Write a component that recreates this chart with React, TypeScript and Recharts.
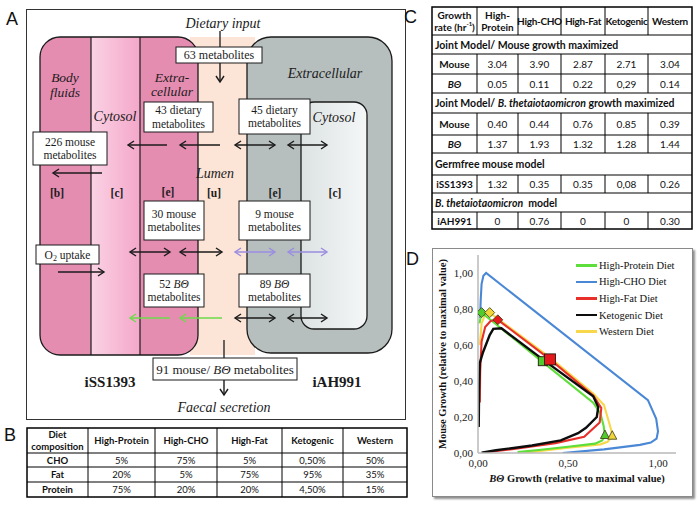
import React from "react";
import { ComposedChart, Line, Scatter, XAxis, YAxis, Legend, Label } from "recharts";

const serif = '"Liberation Serif", "DejaVu Serif", serif';
const sans = 'Lato, "Open Sans", sans-serif';
const panelFont = '"Liberation Sans", Arial, sans-serif';
const INK = "#1b1b1b";

// ---- panel D: growth trade-off curves, [BΘ growth, mouse growth]
const highProteinCurve: [number, number][] = [
  [0.008, 0.72], [0.02, 0.78], [0.1, 0.715], [0.36, 0.505], [0.64, 0.28], [0.68, 0.22],
  [0.698, 0.15], [0.705, 0.1], [0.69, 0.07], [0.65, 0.052], [0.5, 0.035], [0.35, 0.018], [0.22, 0.005],
];
const highChoCurve: [number, number][] = [
  [0.47, 0], [0.7, 0.02], [0.9, 0.045], [0.96, 0.058], [0.992, 0.08], [1.0, 0.12], [0.99, 0.19],
  [0.944, 0.294], [0.045, 1.0], [0.03, 0.985], [0.02, 0.94], [0.015, 0.85], [0.012, 0.75],
];
const highFatCurve: [number, number][] = [
  [0.01, 0.28], [0.012, 0.45], [0.02, 0.62], [0.04, 0.7], [0.07, 0.733], [0.11, 0.74], [0.4, 0.52],
  [0.64, 0.32], [0.685, 0.25], [0.676, 0.17], [0.59, 0.09], [0.43, 0.055], [0.2, 0.022], [0.03, 0.003],
];
const ketogenicCurve: [number, number][] = [
  [0.004, 0.145], [0.006, 0.35], [0.01, 0.5], [0.028, 0.56], [0.065, 0.655], [0.085, 0.69], [0.13, 0.693],
  [0.38, 0.505], [0.64, 0.315], [0.668, 0.255], [0.66, 0.2], [0.6, 0.14], [0.556, 0.11], [0.46, 0.07],
  [0.3, 0.042], [0.1, 0.015], [0.02, 0.002],
];
const westernCurve: [number, number][] = [
  [0.01, 0.6], [0.02, 0.72], [0.04, 0.77], [0.065, 0.78], [0.4, 0.53], [0.64, 0.33], [0.7, 0.267],
  [0.74, 0.128], [0.746, 0.096], [0.72, 0.062], [0.68, 0.048], [0.5, 0.03], [0.25, 0.0],
];

const diamondMarkers = [
  { diet: "High-Protein", x: 0.02, y: 0.78 },
  { diet: "Western", x: 0.065, y: 0.78 },
  { diet: "High-Fat", x: 0.11, y: 0.74 },
];
const squareMarkers = [
  { diet: "High-Protein", x: 0.36, y: 0.51 },
  { diet: "High-Fat", x: 0.4, y: 0.52 },
];
const triangleMarkers = [
  { diet: "High-Protein", x: 0.705, y: 0.1 },
  { diet: "Western", x: 0.746, y: 0.096 },
];

const xTicks = [0, 0.5, 1];
const yTicks = [0, 0.2, 0.4, 0.6, 0.8, 1];

// ---- panel B / C tables
const dietNames = ["High-Protein", "High-CHO", "High-Fat", "Ketogenic", "Western"];
const choRow = ["5%", "75%", "5%", "0,50%", "50%"];
const fatRow = ["20%", "5%", "75%", "95%", "35%"];
const proteinRow = ["75%", "20%", "20%", "4,50%", "15%"];

const mouseMaxMouse = ["3.04", "3.90", "2.87", "2.71", "3.04"];
const mouseMaxBt = ["0.05", "0.11", "0.22", "0,29", "0.14"];
const btMaxMouse = ["0.40", "0.44", "0.76", "0.85", "0.39"];
const btMaxBt = ["1.37", "1.93", "1.32", "1.28", "1.44"];
const germfreeRow = ["1.32", "0.35", "0.35", "0,08", "0.26"];
const btModelRow = ["0", "0.76", "0", "0", "0.30"];

const lineColor: Record<string, string> = {
  "High-Protein": "#5EDE3A",
  "High-CHO": "#4A88D6",
  "High-Fat": "#E8302A",
  Ketogenic: "#0d0d0d",
  Western: "#F8D84A",
};
const markerFill: Record<string, string> = {
  "High-Protein": "#4FCB2E",
  "High-Fat": "#E5181C",
  Western: "#EFD53A",
};

const curves = [
  { name: "High-CHO", pts: highChoCurve },
  { name: "Western", pts: westernCurve },
  { name: "High-Protein", pts: highProteinCurve },
  { name: "High-Fat", pts: highFatCurve },
  { name: "Ketogenic", pts: ketogenicCurve },
];

const fmt = (v: number) => v.toFixed(2).replace(".", ",");

const Diamond = (p: any) => {
  const { cx, cy, payload } = p;
  const r = 5;
  return (
    <path
      d={`M${cx},${cy - r} L${cx + r},${cy} L${cx},${cy + r} L${cx - r},${cy} Z`}
      fill={markerFill[payload.diet]}
      stroke="#3a3a10"
      strokeWidth={0.8}
    />
  );
};
const Square = (p: any) => {
  const { cx, cy, payload } = p;
  const s = payload.diet === "High-Fat" ? 11 : 9;
  return (
    <rect x={cx - s / 2} y={cy - s / 2} width={s} height={s} fill={markerFill[payload.diet]} stroke="#2a1a10" strokeWidth={0.9} />
  );
};
const Triangle = (p: any) => {
  const { cx, cy, payload } = p;
  return (
    <path
      d={`M${cx},${cy - 5} L${cx + 4.5},${cy + 3.5} L${cx - 4.5},${cy + 3.5} Z`}
      fill={markerFill[payload.diet]}
      stroke="#3a3a10"
      strokeWidth={0.8}
    />
  );
};

const legendOrder = ["High-Protein", "High-CHO", "High-Fat", "Ketogenic", "Western"];

const renderLegend = () => (
  <div style={{ fontFamily: serif, fontSize: 10.5, color: "#111" }}>
    {legendOrder.map((n) => (
      <div key={n} style={{ display: "flex", alignItems: "center", height: 16.6 }}>
        <span style={{ display: "inline-block", width: 21, height: 2.5, background: lineColor[n], marginRight: 2 }} />
        <span>{n} Diet</span>
      </div>
    ))}
  </div>
);

const YLabel = (props: any) => {
  const vb = props.viewBox || { x: 0, y: 6, width: 45, height: 198 };
  const x = vb.x + 9;
  const y = vb.y + vb.height / 2;
  return (
    <text x={x} y={y} transform={`rotate(-90, ${x}, ${y})`} textAnchor="middle" dominantBaseline="central"
      fontFamily={serif} fontSize={10.5} fontWeight="bold" fill="#111">
      Mouse Growth (relative to maximal value)
    </text>
  );
};

const XLabel = (props: any) => {
  const vb = props.viewBox || { x: 45, y: 204, width: 198, height: 43 };
  return (
    <text x={vb.x + vb.width / 2} y={vb.y + 25} textAnchor="middle" dominantBaseline="central"
      fontFamily={serif} fontSize={10.5} fontWeight="bold" fill="#111">
      <tspan fontStyle="italic">BΘ</tspan> Growth (relative to maximal value)
    </text>
  );
};

function GrowthChart() {
  const tick = { fontFamily: serif, fontSize: 11, fill: "#222" };
  return (
    <ComposedChart width={259} height={247} margin={{ top: 6, right: 16, left: 0, bottom: 0 }}>
      <XAxis type="number" dataKey="x" domain={[0, 1.1]} ticks={xTicks} tickFormatter={fmt} allowDataOverflow
        height={43} axisLine={{ stroke: "#B8B8B8", strokeWidth: 1.5 }} tickLine={false} tickSize={4} tickMargin={2} tick={tick}>
        <Label content={XLabel} />
      </XAxis>
      <YAxis type="number" dataKey="y" domain={[0, 1.1]} ticks={yTicks} tickFormatter={fmt} allowDataOverflow
        width={45} axisLine={{ stroke: "#B8B8B8", strokeWidth: 1.5 }} tickLine={false} tickSize={3} tickMargin={2} tick={tick}>
        <Label content={YLabel} />
      </YAxis>
      {curves.map((c) => (
        <Line key={c.name} name={c.name} data={c.pts.map(([x, y]) => ({ x, y }))} dataKey="y" type="linear"
          stroke={lineColor[c.name]} strokeWidth={c.name === "Ketogenic" ? 2.4 : 2.1} dot={false}
          isAnimationActive={false} legendType="line" />
      ))}
      <Scatter data={diamondMarkers} dataKey="y" shape={Diamond} isAnimationActive={false} legendType="none" />
      <Scatter data={squareMarkers} dataKey="y" shape={Square} isAnimationActive={false} legendType="none" />
      <Scatter data={triangleMarkers} dataKey="y" shape={Triangle} isAnimationActive={false} legendType="none" />
      <Legend content={renderLegend} layout="vertical" align="center" verticalAlign="middle"
        wrapperStyle={{ position: "absolute", left: 143, top: 8, width: 115, height: 84 }} />
    </ComposedChart>
  );
}

// ---- panel A diagram helpers
function HArrow({ x1, x2, y, color = INK, both = false }: { x1: number; x2: number; y: number; color?: string; both?: boolean }) {
  const dir = x2 > x1 ? 1 : -1;
  const h = 6;
  return (
    <g stroke={color} strokeWidth={1.4} fill="none">
      <line x1={x1} y1={y} x2={x2} y2={y} />
      <polyline points={`${x2 - dir * h},${y - 4} ${x2},${y} ${x2 - dir * h},${y + 4}`} />
      {both && <polyline points={`${x1 + dir * h},${y - 4} ${x1},${y} ${x1 + dir * h},${y + 4}`} />}
    </g>
  );
}

function Box({ x, y, w, h, lines, size = 11.5 }: { x: number; y: number; w: number; h: number; lines: React.ReactNode[]; size?: number }) {
  const lh = size * 1.17;
  const start = y + h / 2 - ((lines.length - 1) * lh) / 2;
  return (
    <g>
      <rect x={x} y={y} width={w} height={h} fill="#fff" stroke={INK} strokeWidth={1} />
      {lines.map((ln, i) => (
        <text key={i} x={x + w / 2} y={start + i * lh} textAnchor="middle" dominantBaseline="central"
          fontFamily={serif} fontSize={size} fill={INK}>
          {ln}
        </text>
      ))}
    </g>
  );
}

const It = ({ x, y, children, size = 13.5 }: any) => (
  <text x={x} y={y} textAnchor="middle" dominantBaseline="central" fontFamily={serif} fontStyle="italic" fontSize={size} fill={INK}>
    {children}
  </text>
);
const Bd = ({ x, y, children, size = 11.5 }: any) => (
  <text x={x} y={y} textAnchor="middle" dominantBaseline="central" fontFamily={serif} fontWeight="bold" fontSize={size} fill={INK}>
    {children}
  </text>
);

const PINK = "#E58CB1";
const PEACH = "#FCE4D6";
const GRAY = "#B6BFBE";
const PURPLE = "#9A8DE2";
const GREEN = "#6CDB4A";

function PanelA() {
  const bt = <tspan fontStyle="italic">BΘ</tspan>;
  return (
    <g>
      <defs>
        <clipPath id="mouseClip">
          <rect x={40} y={37} width={158} height={318} rx={20} />
        </clipPath>
        <linearGradient id="cytoPink" x1="0" x2="1" y1="0" y2="0">
          <stop offset="0" stopColor="#FAD2E4" />
          <stop offset="1" stopColor="#F4A7CA" />
        </linearGradient>
        <linearGradient id="cytoGray" x1="0" x2="1" y1="0" y2="0">
          <stop offset="0" stopColor="#DCE2E2" />
          <stop offset="1" stopColor="#F5F7F7" />
        </linearGradient>
      </defs>
      <rect x={26.5} y={9.5} width={379} height={410} fill="#fff" stroke="#333" strokeWidth={1} />
      <rect x={190} y={37} width={65} height={318} fill={PEACH} />
      <g clipPath="url(#mouseClip)">
        <rect x={40} y={37} width={51} height={318} fill={PINK} />
        <rect x={91} y={37} width={49} height={318} fill="url(#cytoPink)" />
        <rect x={140} y={37} width={58} height={318} fill={PINK} />
      </g>
      <line x1={91} y1={37} x2={91} y2={355} stroke={INK} strokeWidth={1.2} />
      <line x1={140} y1={37} x2={140} y2={355} stroke={INK} strokeWidth={1.2} />
      <rect x={40} y={37} width={158} height={318} rx={20} fill="none" stroke={INK} strokeWidth={1.3} />
      <rect x={247} y={37} width={145} height={316} rx={24} fill={GRAY} stroke={INK} strokeWidth={1.3} />
      <rect x={301} y={102} width={66} height={227} rx={13} fill="url(#cytoGray)" stroke={INK} strokeWidth={1.3} />

      <It x={223} y={23} size={14}>Dietary input</It>
      <line x1={220} y1={31} x2={220} y2={47} stroke={INK} strokeWidth={1.3} />
      <g stroke={INK} strokeWidth={1.4} fill="none">
        <line x1={220} y1={63} x2={220} y2={82} />
        <polyline points="216,76 220,82 224,76" />
      </g>
      <It x={65} y={77}>Body</It>
      <It x={65} y={92}>fluids</It>
      <It x={172} y={77}>Extra-</It>
      <It x={172} y={91}>cellular</It>
      <It x={115} y={116} size={14}>Cytosol</It>
      <It x={325} y={73} size={14}>Extracellular</It>
      <It x={334} y={117} size={14}>Cytosol</It>
      <It x={215} y={173} size={14}>Lumen</It>

      <Bd x={57} y={193}>[b]</Bd>
      <Bd x={117} y={193}>[c]</Bd>
      <Bd x={168} y={192}>[e]</Bd>
      <Bd x={214} y={193}>[u]</Bd>
      <Bd x={275} y={193}>[e]</Bd>
      <Bd x={335} y={193}>[c]</Bd>

      <HArrow x1={167} x2={128} y={145} />
      <HArrow x1={220} x2={180} y={145} />
      <HArrow x1={235} x2={275} y={145} both />
      <HArrow x1={288} x2={327} y={145} both />
      <HArrow x1={102} x2={53} y={173} />
      <HArrow x1={130} x2={170} y={252} both />
      <HArrow x1={180} x2={222} y={252} both />
      <HArrow x1={235} x2={275} y={252} both color={PURPLE} />
      <HArrow x1={288} x2={327} y={252} both color={PURPLE} />
      <HArrow x1={58} x2={104} y={272} />
      <HArrow x1={170} x2={130} y={318} color={GREEN} />
      <HArrow x1={222} x2={180} y={318} color={GREEN} />
      <HArrow x1={235} x2={275} y={318} both />
      <HArrow x1={288} x2={327} y={318} both />

      <Box x={176} y={47} w={86} h={16} lines={["63 metabolites"]} size={12} />
      <Box x={144} y={102} w={69} h={30} lines={["43 dietary", "metabolites"]} />
      <Box x={239} y={99} w={71} h={35} lines={["45 dietary", "metabolites"]} />
      <Box x={33} y={132} w={74} h={33} lines={["226 mouse", "metabolites"]} />
      <Box x={144} y={201} w={60} h={39} lines={["30 mouse", "metabolites"]} />
      <Box x={239} y={201} w={71} h={39} lines={["9 mouse", "metabolites"]} />
      <Box x={36} y={245} w={63} h={19} lines={[<>O<tspan fontSize={8} dy={3}>2</tspan><tspan dy={-3}> uptake</tspan></>]} />
      <Box x={144} y={274} w={60} h={33} lines={[<>52 {bt}</>, "metabolites"]} />
      <Box x={239} y={274} w={71} h={33} lines={[<>89 {bt}</>, "metabolites"]} />

      <line x1={224} y1={340} x2={224} y2={358} stroke={INK} strokeWidth={1.3} />
      <Box x={153} y={358} w={144} h={22} lines={[<>91 mouse/ {bt} metabolites</>]} size={13} />
      <g stroke={INK} strokeWidth={1.4} fill="none">
        <line x1={224} y1={380} x2={224} y2={395} />
        <polyline points="220,389 224,395 228,389" />
      </g>
      <Bd x={110} y={382} size={15}>iSS1393</Bd>
      <Bd x={337} y={382} size={15}>iAH991</Bd>
      <It x={224} y={407} size={14}>Faecal secretion</It>
    </g>
  );
}

// ---- tables drawn as svg grids
type TRow = { y0: number; y1: number; cells?: React.ReactNode[]; span?: React.ReactNode; bold?: boolean[] };

function SvgTable({ cols, rows, size, bold0 = true }: { cols: number[]; rows: TRow[]; size: number; bold0?: boolean }) {
  const x0 = cols[0];
  const x1 = cols[cols.length - 1];
  return (
    <g fontFamily={sans} fontSize={size} fill="#111">
      <rect x={x0} y={rows[0].y0} width={x1 - x0} height={rows[rows.length - 1].y1 - rows[0].y0} fill="#fff" />
      {rows.map((r, ri) => (
        <g key={ri}>
          {ri > 0 && <line x1={x0} x2={x1} y1={r.y0} y2={r.y0} stroke="#000" strokeWidth={1} />}
          {r.cells &&
            cols.slice(1, -1).map((cx, i) => (
              <line key={i} x1={cx} x2={cx} y1={r.y0} y2={r.y1} stroke="#000" strokeWidth={1} />
            ))}
          {r.cells &&
            r.cells.map((c, i) => {
              const lines = Array.isArray(c) ? c : [c];
              const mid = (r.y0 + r.y1) / 2;
              const lh = size * 1.2;
              return lines.map((ln: React.ReactNode, li: number) => (
                <text key={`${i}-${li}`} x={(cols[i] + cols[i + 1]) / 2} y={mid + (li - (lines.length - 1) / 2) * lh}
                  textAnchor="middle" dominantBaseline="central"
                  fontWeight={(bold0 && i === 0) || (r.bold && r.bold[i]) ? "bold" : "normal"}>
                  {ln}
                </text>
              ));
            })}
          {r.span && (
            <text x={x0 + 3} y={(r.y0 + r.y1) / 2} dominantBaseline="central" fontWeight="bold" fontSize={size + 0.5}>
              {r.span}
            </text>
          )}
        </g>
      ))}
      <rect x={x0} y={rows[0].y0} width={x1 - x0} height={rows[rows.length - 1].y1 - rows[0].y0}
        fill="none" stroke="#000" strokeWidth={1.5} />
    </g>
  );
}

function PanelB() {
  const cols = [27, 88, 155, 217, 282, 343, 407];
  const allBold = [true, true, true, true, true, true];
  const rows: TRow[] = [
    { y0: 428, y1: 453, cells: [["Diet", "composition"], ...dietNames], bold: allBold },
    { y0: 453, y1: 467, cells: ["CHO", ...choRow] },
    { y0: 467, y1: 482, cells: ["Fat", ...fatRow] },
    { y0: 482, y1: 497, cells: ["Protein", ...proteinRow] },
  ];
  return <SvgTable cols={cols} rows={rows} size={9.5} />;
}

function PanelC() {
  const cols = [432, 477, 518, 561, 605, 648, 692];
  const allBold = [true, true, true, true, true, true];
  const bt = <tspan fontStyle="italic">BΘ</tspan>;
  const head = (t: string) => <tspan letterSpacing={-0.3}>{t}</tspan>;
  const rows: TRow[] = [
    {
      y0: 7, y1: 35, bold: allBold,
      cells: [
        ["Growth", <>rate (hr<tspan fontSize={6} dy={-4}>-1</tspan><tspan dy={4}>)</tspan></>],
        ["High-", "Protein"],
        ...dietNames.slice(1).map(head),
      ],
    },
    { y0: 35, y1: 54, span: "Joint Model/ Mouse growth maximized" },
    { y0: 54, y1: 74, cells: ["Mouse", ...mouseMaxMouse] },
    { y0: 74, y1: 93, cells: [bt, ...mouseMaxBt] },
    { y0: 93, y1: 113, span: <>Joint Model/ <tspan fontStyle="italic">B. thetaiotaomicron</tspan> growth maximized</> },
    { y0: 113, y1: 135, cells: ["Mouse", ...btMaxMouse] },
    { y0: 135, y1: 153, cells: [bt, ...btMaxBt] },
    { y0: 153, y1: 175, span: "Germfree mouse model" },
    { y0: 175, y1: 193, cells: ["iSS1393", ...germfreeRow] },
    { y0: 193, y1: 212, span: <><tspan fontStyle="italic">B. thetaiotaomicron</tspan>{"\u00a0 model"}</> },
    { y0: 212, y1: 229, cells: ["iAH991", ...btModelRow] },
  ];
  return <SvgTable cols={cols} rows={rows} size={10} />;
}

const panelLetter = (t: string, x: number, y: number) => (
  <div style={{ position: "absolute", left: x, top: y, fontFamily: panelFont, fontSize: 18, lineHeight: "18px", color: "#111" }}>{t}</div>
);

export default function App() {
  return (
    <div style={{ position: "absolute", left: 0, top: 0, width: 700, height: 507, background: "#fff", overflow: "hidden" }}>
      <svg width={700} height={507} style={{ position: "absolute", left: 0, top: 0 }}>
        <PanelA />
        <PanelB />
        <PanelC />
      </svg>
      {panelLetter("A", 6, 10)}
      {panelLetter("B", 4, 426)}
      {panelLetter("C", 404, 8)}
      {panelLetter("D", 406, 250)}
      <div style={{ position: "absolute", left: 432, top: 248, width: 261, height: 249, boxSizing: "border-box",
        border: "1px solid #8a8a8a", boxShadow: "2px 2px 2px #8f8f8f", background: "#fff" }}>
        <GrowthChart />
      </div>
    </div>
  );
}
